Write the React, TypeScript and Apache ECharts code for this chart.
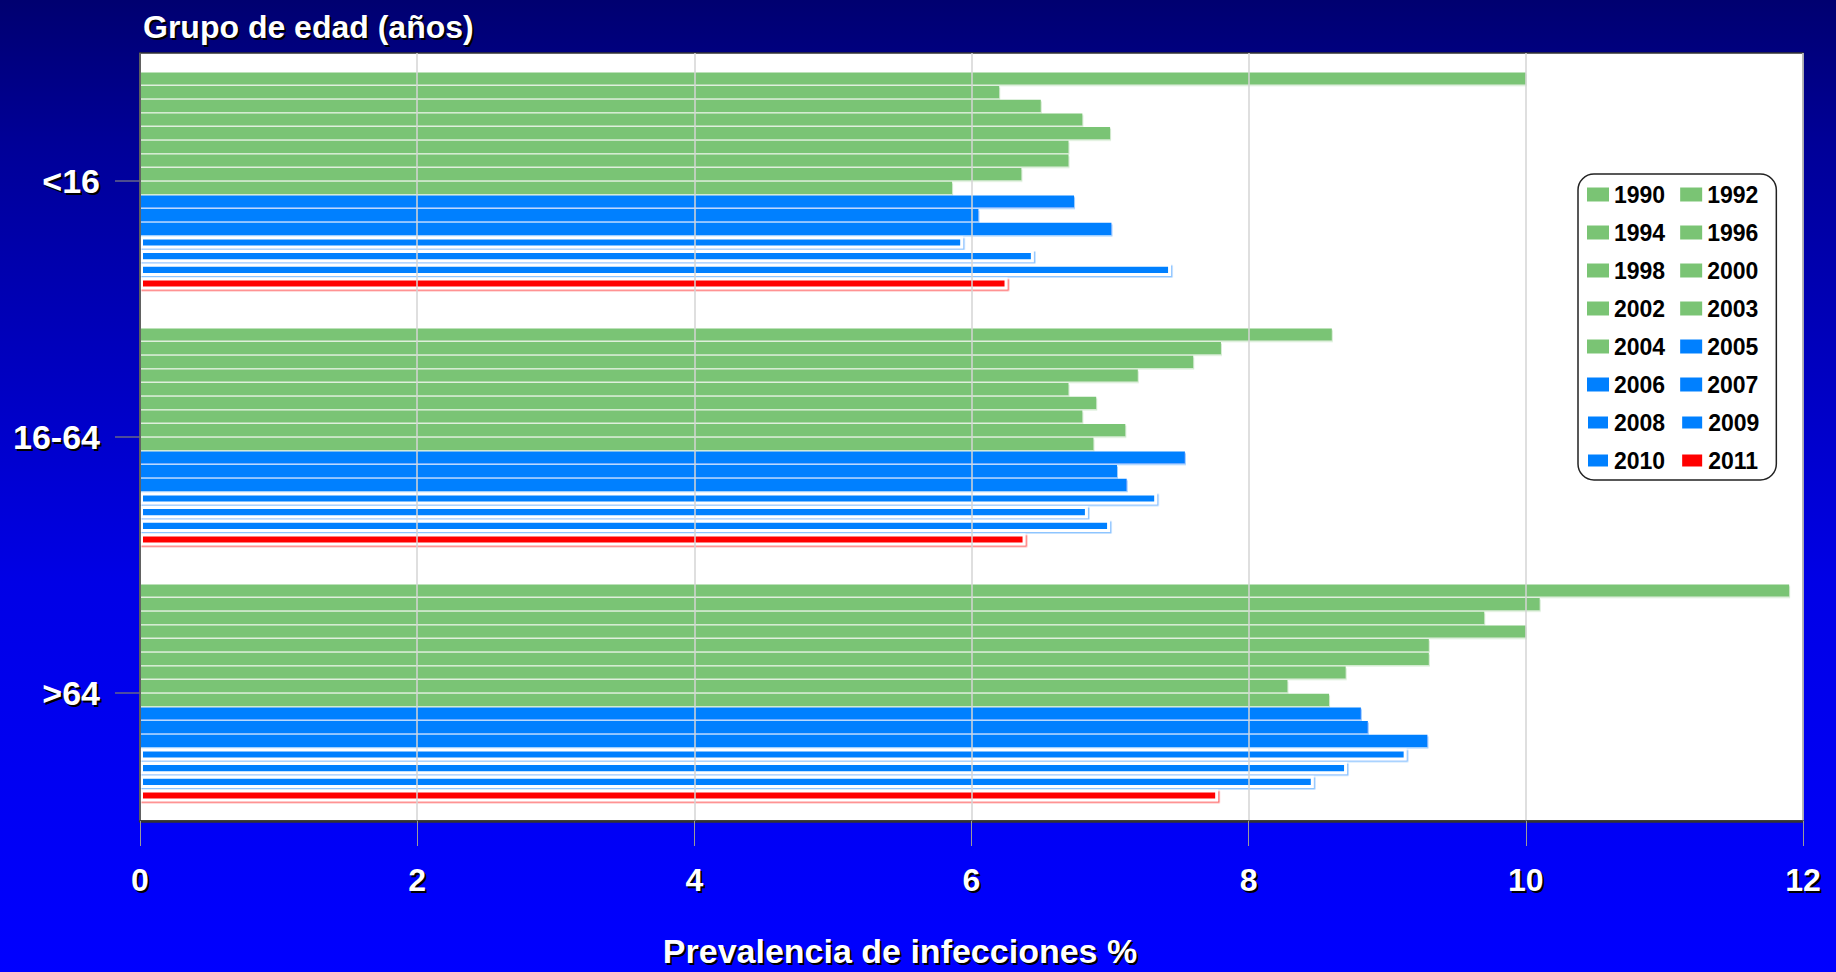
import React, { useEffect, useRef } from "react";
import * as echarts from "echarts";

const categories = ["<16", "16-64", ">64"];
const years = [
  "1990", "1992", "1994", "1996", "1998", "2000", "2002", "2003",
  "2004", "2005", "2006", "2007", "2008", "2009", "2010", "2011",
];
const under16 = [10.0, 6.2, 6.5, 6.8, 7.0, 6.7, 6.7, 6.36, 5.86, 6.74, 6.05, 7.01, 5.94, 6.45, 7.44, 6.26];
const age16to64 = [8.6, 7.8, 7.6, 7.2, 6.7, 6.9, 6.8, 7.11, 6.88, 7.54, 7.05, 7.12, 7.34, 6.84, 7.0, 6.39];
const over64 = [11.9, 10.1, 9.7, 10.0, 9.3, 9.3, 8.7, 8.28, 8.58, 8.81, 8.86, 9.29, 9.14, 8.71, 8.47, 7.78];

const FONT = "'Liberation Sans', Arial, sans-serif";
const TITLE = "Grupo de edad (años)";
const AXIS_NAME = "Prevalencia de infecciones %";

function styleFor(i: number) {
  if (i <= 8) {
    return { color: "#7AC474", shadowColor: "#d4ebd1", shadowOffsetX: 1, shadowOffsetY: 1.5, shadowBlur: 0 };
  }
  if (i <= 11) {
    return { color: "#0080FF", shadowColor: "#9fcfff", shadowOffsetX: 1, shadowOffsetY: 1.5, shadowBlur: 0 };
  }
  if (i <= 14) {
    return {
      color: "#0080FF",
      borderColor: "#ffffff",
      borderWidth: 3,
      shadowColor: "#8ec5ff",
      shadowOffsetX: 1.5,
      shadowOffsetY: 1.5,
      shadowBlur: 0,
    };
  }
  return {
    color: "#FF0000",
    borderColor: "#ffffff",
    borderWidth: 3,
    shadowColor: "#ff7070",
    shadowOffsetX: 1.5,
    shadowOffsetY: 1.5,
    shadowBlur: 0,
  };
}

export default function App() {
  const ref = useRef<HTMLDivElement>(null);

  useEffect(() => {
    if (!ref.current) return;
    const chart = echarts.init(ref.current, undefined, { renderer: "svg" });

    const series = years.map((y, i) => ({
      name: y,
      type: "bar",
      xAxisIndex: 0,
      yAxisIndex: 0,
      data: [under16[i], age16to64[i], over64[i]],
      barWidth: 12.2,
      barGap: "12%",
      itemStyle: styleFor(i),
    }));

    const txt = (color: string, size: number) => ({
      color,
      fontWeight: "bold",
      fontFamily: FONT,
      fontSize: size,
    });

    const G = { left: 140, right: 33, top: 53, bottom: 151 };
    const S = 2; // shadow offset

    const nameText = (color: string, dx: number) => ({
      type: "text",
      x: 900 + dx,
      y: 951 + dx,
      z: dx > 0 ? 1 : 2,
      style: {
        text: AXIS_NAME,
        fill: color,
        font: `bold 34px ${FONT}`,
        textAlign: "center",
        textVerticalAlign: "middle",
      },
    });

    chart.setOption({
      animation: false,
      backgroundColor: new echarts.graphic.LinearGradient(0, 0, 0, 1, [
        { offset: 0, color: "#000070" },
        { offset: 0.15, color: "#000098" },
        { offset: 0.6, color: "#0000E6" },
        { offset: 1, color: "#0000FF" },
      ]),
      title: [
        { text: TITLE, left: 138 + S, top: 6 + S, textStyle: txt("#000000", 32), z: 1 },
        { text: TITLE, left: 138, top: 6, textStyle: txt("#ffffff", 32), z: 2 },
      ],
      graphic: [nameText("#000000", S), nameText("#ffffff", 0)],
      legend: {
        data: years,
        orient: "horizontal",
        left: 1578,
        top: 174,
        width: 190,
        padding: [9, 17, 8, 8],
        itemGap: 15,
        itemWidth: 22,
        itemHeight: 14,
        icon: "rect",
        backgroundColor: "#ffffff",
        borderColor: "#222222",
        borderWidth: 1.5,
        borderRadius: 16,
        textStyle: {
          color: "#000000",
          fontWeight: "bold",
          fontSize: 23,
          fontFamily: FONT,
          padding: [0, 4, 0, 0],
        },
      },
      grid: [
        {
          ...G,
          show: true,
          backgroundColor: "#ffffff",
          borderColor: "#333333",
          borderWidth: 1.5,
          z: 2,
        },
        {
          left: G.left + S,
          right: G.right - S,
          top: G.top + S,
          bottom: G.bottom - S,
          show: false,
          z: 1,
        },
      ],
      xAxis: [
        {
          gridIndex: 0,
          type: "value",
          min: 0,
          max: 12,
          interval: 2,
          axisLine: { show: true, lineStyle: { color: "#333333", width: 2.5 } },
          axisTick: { show: true, length: 25, lineStyle: { color: "#9a9a9a", width: 1 } },
          splitLine: { show: true, lineStyle: { color: "#d4d4d4", width: 1.5 } },
          axisLabel: { ...txt("#ffffff", 32), margin: 43 },
          z: 3,
        },
        {
          gridIndex: 1,
          type: "value",
          min: 0,
          max: 12,
          interval: 2,
          axisLine: { show: false },
          axisTick: { show: false },
          splitLine: { show: false },
          axisLabel: { ...txt("#000000", 32), margin: 43 },
          z: 1,
        },
      ],
      yAxis: [
        {
          gridIndex: 0,
          type: "category",
          data: categories,
          inverse: true,
          axisLine: { show: true, lineStyle: { color: "#444444", width: 1.5 } },
          axisTick: { show: true, alignWithLabel: true, length: 25, lineStyle: { color: "#666688", width: 1.5 } },
          splitLine: { show: false },
          axisLabel: { ...txt("#ffffff", 34), margin: 40 },
          z: 3,
        },
        {
          gridIndex: 1,
          type: "category",
          data: categories,
          inverse: true,
          axisLine: { show: false },
          axisTick: { show: false },
          splitLine: { show: false },
          axisLabel: { ...txt("#000000", 34), margin: 40 },
          z: 1,
        },
      ],
      series,
    });

    return () => {
      chart.dispose();
    };
  }, []);

  return (
    <div
      ref={ref}
      style={{ position: "absolute", left: 0, top: 0, width: 1836, height: 972 }}
    />
  );
}
